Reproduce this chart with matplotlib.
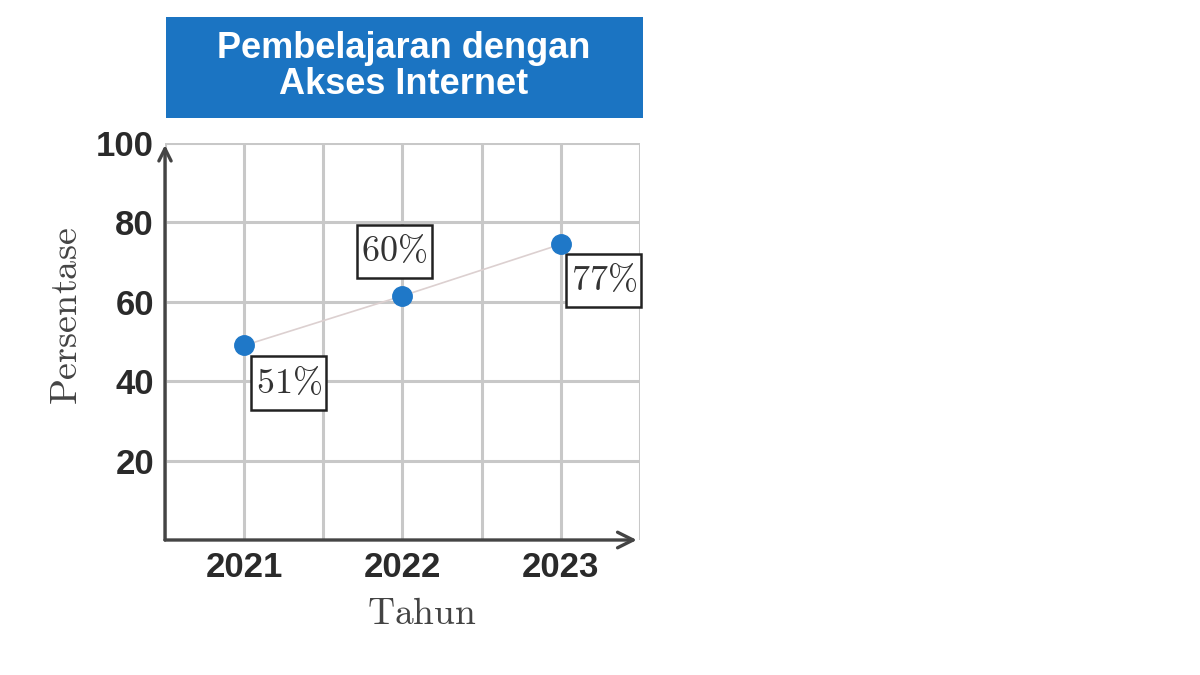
import matplotlib
matplotlib.use('Agg')
import matplotlib.pyplot as plt
from matplotlib.patches import Rectangle
from matplotlib.path import Path

# data
years = [2021, 2022, 2023]
values = [49, 61.5, 74.5]          # where the dots sit
labels = ['51%', '60%', '77%']     # what the boxes say
label_offsets = [(32, -27), (-6, 32), (31, -26)]   # points, box centre from dot
yticks = [20, 40, 60, 80, 100]
title_lines = ['Pembelajaran dengan', 'Akses Internet']

plt.rcParams['mathtext.fontset'] = 'cm'


def tall_box(x0, y0, width, height, mutation_size):
    # label boxes in the reference are roomy top/bottom, tight left/right
    px = 0.12 * mutation_size
    py = 0.27 * mutation_size
    x1, y1 = x0 + width + px, y0 + height + py
    x0, y0 = x0 - px, y0 - py
    return Path([(x0, y0), (x1, y0), (x1, y1), (x0, y1), (x0, y0)], closed=True)


fig = plt.figure(figsize=(12, 6.75), dpi=100)
ax = fig.add_axes([165/1200, 135/675, 475/1200, 397/675])

# title banner
fig.patches.append(Rectangle((166/1200, 557/675), 477/1200, 101/675,
                             transform=fig.transFigure, facecolor='#1b74c2',
                             edgecolor='none'))
fig.text(404/1200, 627/675, title_lines[0], ha='center', va='center',
         color='white', fontsize=26, fontweight='bold', family='Liberation Sans')
fig.text(404/1200, 591/675, title_lines[1], ha='center', va='center',
         color='white', fontsize=26, fontweight='bold', family='Liberation Sans')

ax.set_xlim(2020.5, 2023.5)
ax.set_ylim(0, 100)
ax.set_xticks(years)
ax.set_xticklabels([str(y) for y in years])
ax.set_yticks(yticks)
ax.set_xticks([2020.5 + 0.5*i for i in range(7)], minor=True)
ax.grid(True, which='both', axis='x', color='#c8c8c8', lw=2.2)
ax.grid(True, axis='y', color='#c8c8c8', lw=2.2)
ax.tick_params(which='both', length=0)
ax.tick_params(axis='x', pad=8)
ax.tick_params(axis='y', pad=8)
for t in ax.get_xticklabels() + ax.get_yticklabels():
    t.set_family('Liberation Sans')
    t.set_fontweight('bold')
    t.set_fontsize(25)
    t.set_color('#2a2a2a')
for s in ax.spines.values():
    s.set_visible(False)

# axis arrows
ax.annotate('', xy=(2023.48, 0), xytext=(2020.5, 0), xycoords='data',
            arrowprops=dict(arrowstyle='->', color='#444444', lw=2.4,
                            mutation_scale=28, shrinkA=0, shrinkB=0),
            annotation_clip=False, zorder=5)
ax.annotate('', xy=(2020.5, 99.5), xytext=(2020.5, 0), xycoords='data',
            arrowprops=dict(arrowstyle='->', color='#444444', lw=2.4,
                            mutation_scale=22, shrinkA=0, shrinkB=0),
            annotation_clip=False, zorder=5)

ax.plot(years, values, color='#dcd0d0', lw=1.2, zorder=3)
ax.plot(years, values, 'o', color='#1f78c8', ms=14, zorder=6, clip_on=False)

for x, v, lab, off in zip(years, values, labels, label_offsets):
    ax.annotate(r'$\mathrm{' + lab.replace('%', r'\%') + '}$', xy=(x, v),
                xytext=off, textcoords='offset points', ha='center', va='center',
                fontsize=26, color='#333333', zorder=4,
                bbox=dict(boxstyle=tall_box, fc='white', ec='#222222', lw=1.8))

ax.set_xlabel(r'$\mathrm{Tahun}$', fontsize=27, color='#444444')
ax.set_ylabel(r'$\mathrm{Persentase}$', fontsize=27.5, color='#444444')
ax.xaxis.set_label_coords(0.541, -0.142)
ax.yaxis.set_label_coords(-0.169, 0.564)

fig.savefig('out.png', dpi=100)
